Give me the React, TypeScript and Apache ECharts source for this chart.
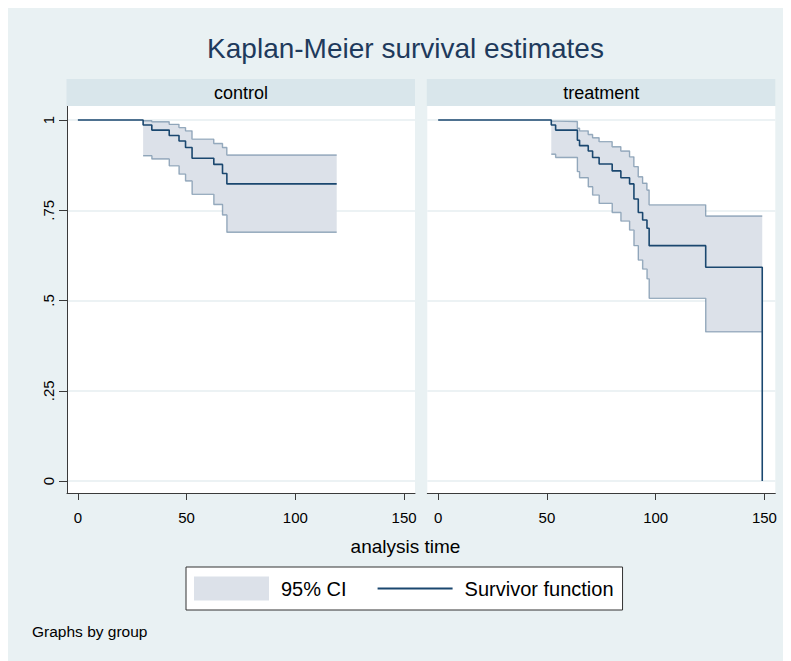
import React, { useEffect, useRef } from "react";
import * as echarts from "echarts";

// ---------- data ----------
const panelNames = ["control", "treatment"];
const xTickValues = [0, 50, 100, 150];
const yTickValues = [0, 0.25, 0.5, 0.75, 1];
const yTickLabels = ["0", ".25", ".5", ".75", "1"];

// control group: event times, survivor function, 95% CI
const controlTimes = [30, 34, 42, 46.5, 49.5, 52.5, 62.5, 66.5, 68.5];
const controlSurv = [0.986, 0.972, 0.957, 0.942, 0.924, 0.894, 0.877, 0.852, 0.823];
const controlLower = [0.901, 0.892, 0.873, 0.85, 0.831, 0.794, 0.766, 0.737, 0.689];
const controlUpper = [0.998, 0.995, 0.988, 0.979, 0.97, 0.947, 0.935, 0.924, 0.903];
const controlFollowUp = 119;

// treatment group
const treatTimes = [52, 54, 64, 65, 69, 71, 74, 80, 84, 88, 90, 92, 94, 96, 97, 123, 149];
const treatSurv = [0.986, 0.972, 0.944, 0.929, 0.914, 0.896, 0.878, 0.859, 0.84, 0.823, 0.781, 0.744, 0.723, 0.7, 0.652, 0.592, 0];
const treatLower = [0.905, 0.896, 0.857, 0.84, 0.815, 0.792, 0.769, 0.744, 0.72, 0.695, 0.652, 0.612, 0.587, 0.56, 0.506, 0.413];
const treatUpper = [0.997, 0.996, 0.977, 0.97, 0.96, 0.951, 0.94, 0.926, 0.914, 0.898, 0.871, 0.843, 0.825, 0.806, 0.765, 0.734];
const treatFollowUp = 149;

// ---------- styles ----------
const FONT = "'Liberation Sans', Arial, Helvetica, sans-serif";
const BG = "#E9F1F3";
const STRIP = "#D9E6EB";
const GRIDLINE = "#E6EEF1";
const NAVY = "#1A476F";
const CI_FILL = "#DCE1E9";
const CI_LINE = "rgba(26,71,111,0.42)";
const AXIS = "#3a3a3a";

const Y_MIN = -0.0332;
const Y_MAX = 1.0388;
const X_MIN = -5;
const X_MAX = 155;

const GRID_TOP = 98;
const GRID_H = 387;
const GRID_W = 348;
const GRID_LEFTS = [59, 419.3];

function buildPanel(
  idx: number,
  times: number[],
  surv: number[],
  lower: number[],
  upper: number[],
  followUp: number
) {
  const survData: number[][] = [[0, 1]];
  times.forEach((t, i) => survData.push([t, surv[i]]));
  survData.push([followUp, surv[surv.length - 1]]);

  const ciRows: number[][] = lower.map((lo, i) => [times[i], lo, upper[i]]);
  ciRows.push([followUp, lower[lower.length - 1], upper[upper.length - 1]]);

  const band = {
    name: "95% CI",
    type: "custom",
    xAxisIndex: idx,
    yAxisIndex: idx,
    data: ciRows,
    encode: { x: 0, y: [1, 2] },
    itemStyle: { color: CI_FILL },
    silent: true,
    z: 2,
    renderItem: (params: any, api: any) => {
      if (params.dataIndex !== 0) return null;
      const pts: number[][] = [];
      const n = ciRows.length;
      for (let i = 0; i < n; i++) {
        pts.push(api.coord([ciRows[i][0], ciRows[i][2]]));
        if (i < n - 1) pts.push(api.coord([ciRows[i + 1][0], ciRows[i][2]]));
      }
      for (let i = n - 1; i >= 0; i--) {
        if (i < n - 1) pts.push(api.coord([ciRows[i + 1][0], ciRows[i][1]]));
        pts.push(api.coord([ciRows[i][0], ciRows[i][1]]));
      }
      return {
        type: "polygon",
        shape: { points: pts },
        style: { fill: CI_FILL, stroke: "none" },
      };
    },
  };

  const outline = (col: number, nm: string) => ({
    name: nm,
    type: "line",
    xAxisIndex: idx,
    yAxisIndex: idx,
    step: "end",
    data: ciRows.map((r) => [r[0], r[col]]),
    symbol: "none",
    silent: true,
    lineStyle: { color: CI_LINE, width: 1.4 },
    z: 3,
  });

  const survLine = {
    name: "Survivor function",
    type: "line",
    xAxisIndex: idx,
    yAxisIndex: idx,
    step: "end",
    data: survData,
    symbol: "none",
    silent: true,
    color: NAVY,
    lineStyle: { color: NAVY, width: 1.6 },
    z: 4,
  };

  return [band, outline(1, "ci-lower-" + idx), outline(2, "ci-upper-" + idx), survLine];
}

export default function App() {
  const ref = useRef<HTMLDivElement>(null);

  useEffect(() => {
    if (!ref.current) return;
    const chart = echarts.init(ref.current, null, { renderer: "svg" });

    const grids = GRID_LEFTS.map((left) => ({
      left,
      top: GRID_TOP,
      width: GRID_W,
      height: GRID_H,
      show: true,
      backgroundColor: "#ffffff",
      borderWidth: 0,
      containLabel: false,
    }));

    const xAxes = GRID_LEFTS.map((_, i) => ({
      type: "value",
      gridIndex: i,
      min: X_MIN,
      max: X_MAX,
      axisLine: { show: true, onZero: false, lineStyle: { color: AXIS, width: 1 } },
      axisTick: { show: true, length: 7, customValues: xTickValues, lineStyle: { color: AXIS, width: 1 } },
      axisLabel: {
        show: true,
        customValues: xTickValues,
        fontSize: 15,
        color: "#000",
        fontFamily: FONT,
        margin: 17,
      },
      splitLine: { show: false },
    }));

    const yAxes = GRID_LEFTS.map((_, i) => ({
      type: "value",
      gridIndex: i,
      min: Y_MIN,
      max: Y_MAX,
      axisLine: { show: i === 0, onZero: false, lineStyle: { color: AXIS, width: 1 } },
      axisTick: { show: i === 0, length: 8, customValues: yTickValues, lineStyle: { color: AXIS, width: 1 } },
      axisLabel: {
        show: i === 0,
        customValues: yTickValues,
        rotate: 90,
        fontSize: 15,
        color: "#000",
        fontFamily: FONT,
        margin: 11,
        formatter: (v: number) => {
          const k = yTickValues.findIndex((t) => Math.abs(t - v) < 1e-9);
          return k >= 0 ? yTickLabels[k] : "";
        },
      },
      splitLine: { show: true, lineStyle: { color: GRIDLINE, width: 1.5 } },
    }));

    const series = [
      ...buildPanel(0, controlTimes, controlSurv, controlLower, controlUpper, controlFollowUp),
      ...buildPanel(1, treatTimes, treatSurv, treatLower, treatUpper, treatFollowUp),
    ];

    const graphic: any[] = [];
    GRID_LEFTS.forEach((left, i) => {
      graphic.push({
        type: "rect",
        shape: { x: left - 0.5, y: 71, width: GRID_W + 0.5, height: 27 },
        style: { fill: STRIP },
        silent: true,
        z: 1,
      });
      graphic.push({
        type: "text",
        x: left + GRID_W / 2,
        y: 84.5,
        style: {
          text: panelNames[i],
          fontSize: 18,
          fontFamily: FONT,
          fill: "#000",
          align: "center",
          verticalAlign: "middle",
        },
        silent: true,
        z: 2,
      });
    });
    graphic.push({
      type: "text",
      x: 397.5,
      y: 40,
      style: {
        text: "Kaplan-Meier survival estimates",
        fontSize: 28,
        fontFamily: FONT,
        fill: "#1E3A5C",
        align: "center",
        verticalAlign: "middle",
      },
      silent: true,
    });
    graphic.push({
      type: "text",
      x: 397.5,
      y: 538,
      style: {
        text: "analysis time",
        fontSize: 19,
        fontFamily: FONT,
        fill: "#000",
        align: "center",
        verticalAlign: "middle",
      },
      silent: true,
    });
    graphic.push({
      type: "text",
      x: 24,
      y: 623,
      style: {
        text: "Graphs by group",
        fontSize: 15.5,
        fontFamily: FONT,
        fill: "#000",
        align: "left",
        verticalAlign: "middle",
      },
      silent: true,
    });

    chart.setOption({
      animation: false,
      backgroundColor: BG,
      grid: grids,
      xAxis: xAxes,
      yAxis: yAxes,
      series,
      graphic,
      legend: {
        left: 178,
        top: 559,
        orient: "horizontal",
        data: [
          { name: "95% CI", icon: "rect" },
          {
            name: "Survivor function",
            itemStyle: { color: "rgba(0,0,0,0)", borderColor: "rgba(0,0,0,0)", borderWidth: 0 },
            lineStyle: { color: NAVY, width: 2 },
          },
        ],
        itemWidth: 75,
        itemHeight: 24,
        itemGap: 30,
        selectedMode: false,
        backgroundColor: "#ffffff",
        borderColor: "#333333",
        borderWidth: 1,
        borderRadius: 0,
        padding: [9.5, 9, 9.5, 8],
        textStyle: {
          fontSize: 20,
          fontFamily: FONT,
          color: "#000",
          padding: [0, 0, 0, 7],
        },
      },
    });

    return () => chart.dispose();
  }, []);

  return <div ref={ref} style={{ width: 783, height: 653 }} />;
}
